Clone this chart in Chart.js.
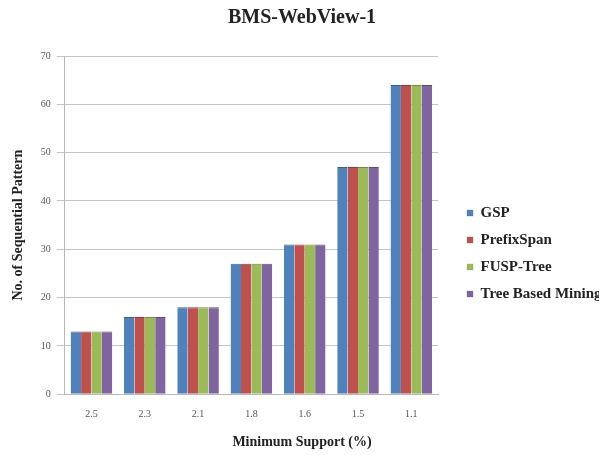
<!DOCTYPE html>
<html>
<head>
<meta charset="utf-8">
<script src="https://cdn.jsdelivr.net/npm/chart.js@4.4.0/dist/chart.umd.min.js"></script>
<style>
  html, body { margin: 0; padding: 0; background: #ffffff; }
  #wrap { width: 608px; height: 455px; position: relative; }
</style>
</head>
<body>
<div id="wrap"><canvas id="chart"></canvas></div>
<script>
const categories = ["2.5", "2.3", "2.1", "1.8", "1.6", "1.5", "1.1"];
const gsp        = [13, 16, 18, 27, 31, 47, 64];
const prefixSpan = [13, 16, 18, 27, 31, 47, 64];
const fuspTree   = [13, 16, 18, 27, 31, 47, 64];
const treeBased  = [13, 16, 18, 27, 31, 47, 64];
const yTicks     = [0, 10, 20, 30, 40, 50, 60, 70];
const xAxisTitle = 'Minimum Support (%)';

const serif = "'Liberation Serif', 'DejaVu Serif', serif";

function series(label, data, color, edge) {
  return {
    label: label,
    data: data,
    backgroundColor: color,
    borderColor: edge,
    borderWidth: { top: 1, left: 0, right: 0, bottom: 0 },
    categoryPercentage: 0.78,
    barPercentage: 1.0
  };
}

// Legend sits in its own column to the right of the plot, slightly lower than centre;
// the title and the bottom caption are centred over the whole canvas width.
const legendPlace = {
  id: 'legendPlace',
  afterLayout(chart) {
    const lg = chart.legend;
    if (lg) {
      const w = lg.right - lg.left;
      const h = lg.bottom - lg.top;
      lg.left = 455;
      lg.right = lg.left + w;
      lg.top += 27;
      lg.bottom = lg.top + h;
    }
    chart.boxes.forEach(b => {
      if (b.options && (b.options.text === 'BMS-WebView-1' || b.options.text === xAxisTitle)) {
        b.left += 8;
        b.right += 8;
      }
    });
  }
};

new Chart(document.getElementById('chart'), {
  type: 'bar',
  data: {
    labels: categories,
    datasets: [
      series('GSP', gsp, '#4F81BD', '#3a5f8c'),
      series('PrefixSpan', prefixSpan, '#C0504D', '#8e3a38'),
      series('FUSP-Tree', fuspTree, '#9BBB59', '#738b42'),
      series('Tree Based Mining', treeBased, '#8064A2', '#5e4a78')
    ]
  },
  plugins: [legendPlace],
  options: {
    responsive: true,
    maintainAspectRatio: false,
    animation: false,
    layout: { padding: { left: 6, right: 26, top: 0, bottom: 2 } },
    plugins: {
      title: {
        display: true,
        text: 'BMS-WebView-1',
        color: '#222',
        font: { family: serif, size: 20, weight: 'bold' },
        padding: { top: 6, bottom: 26 }
      },
      subtitle: {
        display: true,
        position: 'bottom',
        text: xAxisTitle,
        color: '#222',
        font: { family: serif, size: 14, weight: 'bold' },
        padding: { top: 8, bottom: 2 }
      },
      legend: {
        position: 'right',
        align: 'center',
        labels: {
          color: '#222',
          font: { family: serif, size: 15, weight: 'bold' },
          boxWidth: 6,
          boxHeight: 6,
          padding: 12
        }
      },
      tooltip: { enabled: false }
    },
    scales: {
      x: {
        grid: { display: false, drawTicks: true, tickLength: 8 },
        border: { color: '#b8b8b8' },
        ticks: {
          color: '#555',
          font: { family: serif, size: 10 },
          padding: 6
        },
        title: { display: false }
      },
      y: {
        min: 0,
        max: 70,
        afterBuildTicks: (axis) => { axis.ticks = yTicks.map(v => ({ value: v })); },
        grid: { color: '#c4c4c4', tickLength: 8 },
        border: { color: '#b8b8b8' },
        ticks: {
          color: '#555',
          font: { family: serif, size: 10 },
          padding: 6
        },
        title: {
          display: true,
          text: 'No. of Sequential Pattern',
          color: '#222',
          font: { family: serif, size: 14, weight: 'bold' },
          padding: { bottom: 8 }
        }
      }
    }
  }
});
</script>
</body>
</html>
